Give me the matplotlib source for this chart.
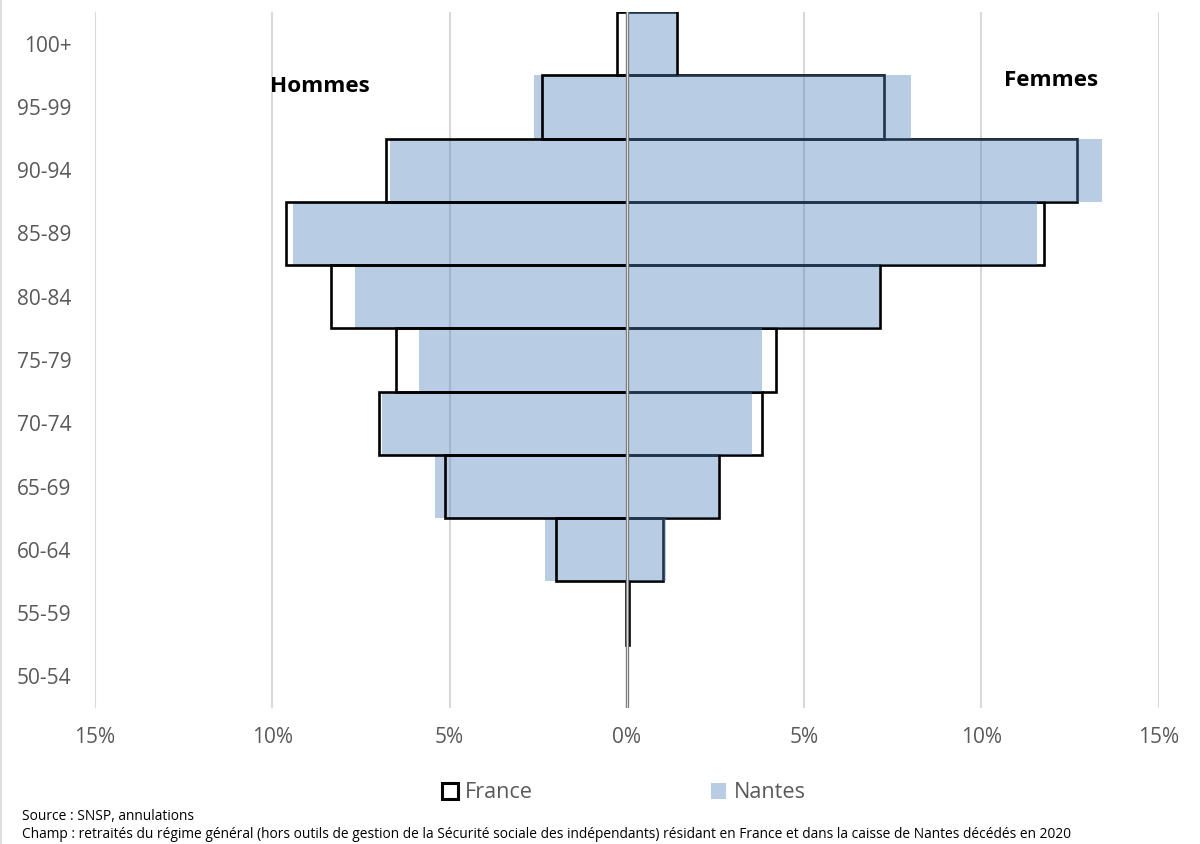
import matplotlib
matplotlib.use("Agg")
import matplotlib.pyplot as plt
from matplotlib.patches import Patch
from matplotlib.lines import Line2D

plt.rcParams['font.family'] = ['Open Sans', 'DejaVu Sans']

# Age groups, top to bottom
age_groups = ['100+', '95-99', '90-94', '85-89', '80-84', '75-79',
              '70-74', '65-69', '60-64', '55-59', '50-54']
# Men (shown to the left), in %
france_men = [0.28, 2.39, 6.78, 9.61, 8.34, 6.52, 6.99, 5.12, 2.01, 0.03, 0.0]
nantes_men = [0.0, 2.63, 6.67, 9.41, 7.66, 5.85, 6.90, 5.41, 2.30, 0.0, 0.0]
# Women (shown to the right), in %
france_women = [1.42, 7.25, 12.70, 11.77, 7.15, 4.20, 3.82, 2.60, 1.02, 0.06, 0.0]
nantes_women = [1.38, 8.00, 13.40, 11.57, 7.12, 3.82, 3.53, 2.57, 1.10, 0.03, 0.0]

x_ticks = [-15, -10, -5, 0, 5, 10, 15]
x_tick_labels = ['15%', '10%', '5%', '0%', '5%', '10%', '15%']

blue = '#4F81BD'
gray_txt = '#595959'

fig = plt.figure(figsize=(12, 8.44), dpi=100)
ax = fig.add_axes([95 / 1200, 1 - 708 / 844, (1158.7 - 95) / 1200, (708 - 12) / 844])

n = len(age_groups)
ypos = [n - 1 - i for i in range(n)]

def lw_for(vals, lw):
    return [lw if v > 0 else 0 for v in vals]

# Men: Nantes under France outline
ax.barh(ypos, [-v for v in nantes_men], height=1.0, color=blue, alpha=0.4,
        linewidth=0, zorder=2)
ax.barh(ypos, [-v for v in france_men], height=1.0, facecolor='none',
        edgecolor='black', linewidth=lw_for(france_men, 1.9), zorder=3)
# Women: France outline under translucent Nantes
ax.barh(ypos, france_women, height=1.0, facecolor='none',
        edgecolor='black', linewidth=lw_for(france_women, 1.9), zorder=3)
ax.barh(ypos, nantes_women, height=1.0, color=blue, alpha=0.4,
        linewidth=0, zorder=4)

# zero line
ax.axvline(0, color='#7f7f7f', linewidth=2.4, zorder=5)
ax.axvline(0, color='#e0e0e0', linewidth=0.7, zorder=6)

ax.set_xlim(-15, 15)
ax.set_ylim(-0.5, n - 0.5)
ax.set_xticks(x_ticks)
ax.set_xticklabels(x_tick_labels)
ax.set_yticks(ypos)
ax.set_yticklabels(age_groups)
ax.tick_params(axis='both', length=0, labelsize=15, labelcolor=gray_txt)
ax.tick_params(axis='x', pad=14)
ax.tick_params(axis='y', pad=17)
for s in ax.spines.values():
    s.set_visible(False)
ax.grid(axis='x', color='#d9d9d9', linewidth=1.5, zorder=1)
ax.set_axisbelow(True)

ax.text(-8.65, 9.33, 'Hommes', fontsize=16.2, fontweight='bold', ha='center',
        va='center', color='black')
ax.text(11.96, 9.41, 'Femmes', fontsize=16.2, fontweight='bold', ha='center',
        va='center', color='black')

handles = [Patch(facecolor='white', edgecolor='black', linewidth=2.2, label='France'),
           Patch(facecolor='#B8CCE4', edgecolor='none', label='Nantes')]
fig.legend(handles=handles, loc='center', bbox_to_anchor=(624 / 1200, 1 - 793 / 844),
           ncol=2, frameon=False, fontsize=15.6, columnspacing=8.2,
           handlelength=0.72, handleheight=0.72, handletextpad=0.35,
           labelcolor=gray_txt)

fig.text(22 / 1200, 1 - 816 / 844, 'Source : SNSP, annulations', fontsize=9.9,
         va='center', ha='left', color='black')
fig.text(22 / 1200, 1 - 835 / 844,
         "Champ : retraités du régime général (hors outils de gestion de la Sécurité sociale "
         "des indépendants) résidant en France et dans la caisse de Nantes décédés en 2020",
         fontsize=9.9, va='center', ha='left', color='black')

fig.add_artist(Line2D([0.0008, 0.0008], [0, 1], transform=fig.transFigure,
                      color='#d9d9d9', linewidth=1.2))

fig.savefig('out.png', dpi=100)
